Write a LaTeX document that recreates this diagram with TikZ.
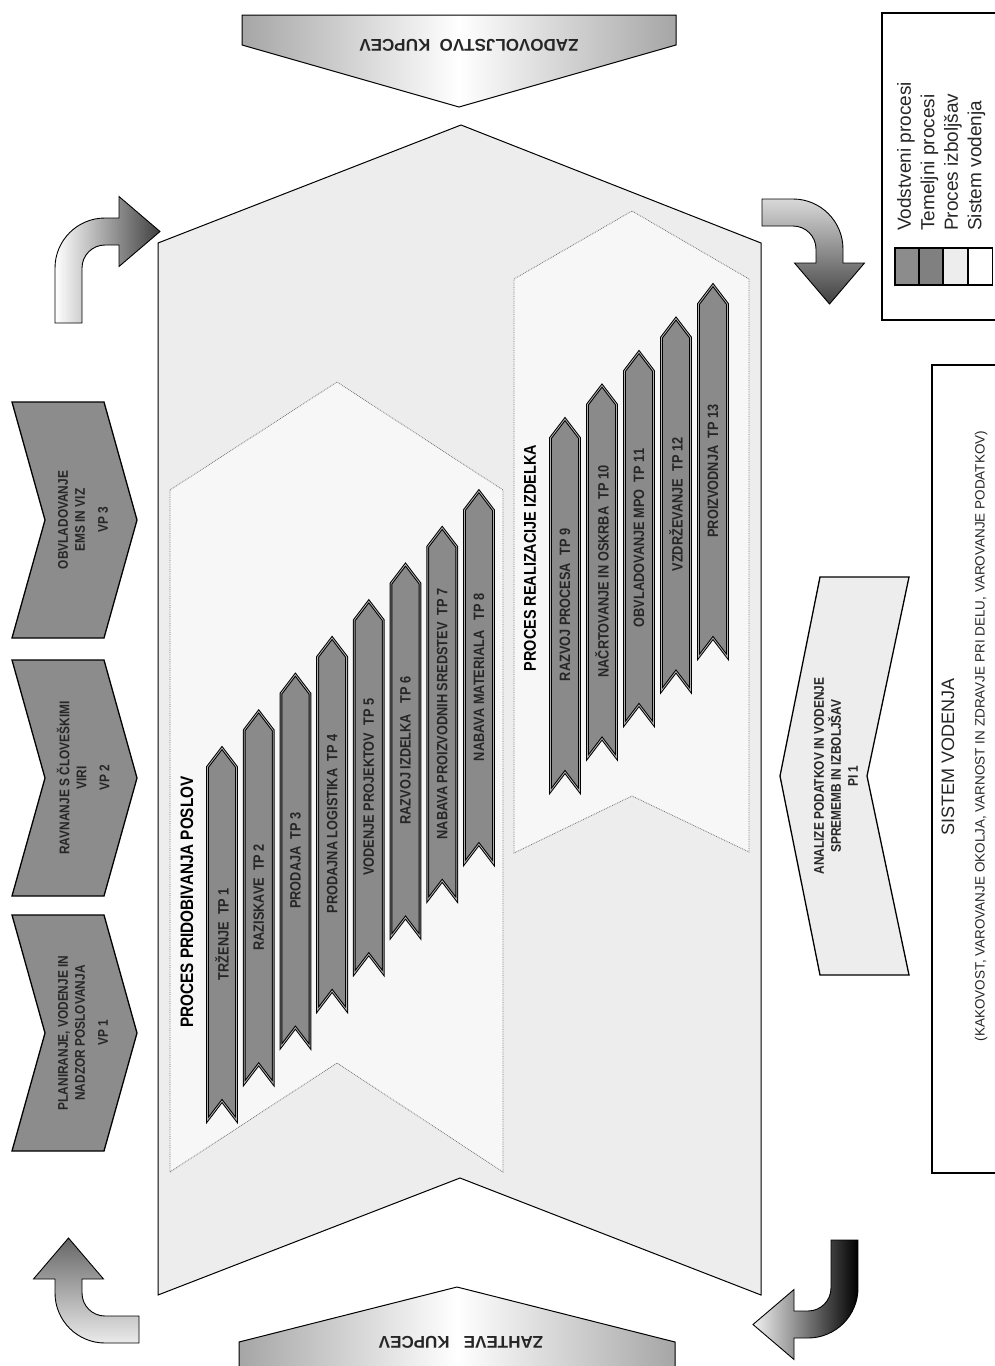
\documentclass[tikz,border=0pt]{standalone}
\usepackage{fontspec, calculator}
\setmainfont{Liberation Sans}
\newfontfamily\narrowfont[FakeStretch=0.85]{Liberation Sans}
\usetikzlibrary{shapes.geometric, arrows}
\tikzstyle{tp} = [draw=black, line width=1pt, double=black!30, double distance=0.8pt, fill=black!46]
\tikzstyle{tptext} = [rotate=90, inner sep=0, text=black!85, font=\narrowfont\bfseries\fontsize{15}{17}\selectfont]
\tikzstyle{vp} = [draw=black, line width=1.3pt, fill=black!45]
\tikzstyle{vptext} = [rotate=90, align=center, inner sep=0, text=black!85, font=\narrowfont\bfseries\fontsize{14}{17}\selectfont]
\tikzstyle{group} = [draw=black!55, densely dotted, line width=0.8pt, fill=black!3]
\tikzstyle{grouptitle} = [rotate=90, inner sep=0, font=\narrowfont\bfseries\fontsize{18}{20}\selectfont]
\tikzstyle{kupec} = [draw=black, line width=1pt, left color=black!35, right color=black!35, middle color=white]
\tikzstyle{kupectext} = [rotate=180, inner sep=0, text=black!85, font=\bfseries\fontsize{17}{20}\selectfont]
\tikzstyle{turn} = [draw=black, line width=0.9pt]
\newcommand{\turnarrow}[2]{\draw[turn,#1] (-50,#2) -- (-23,#2) -- (-23,0) .. controls (-23,-12.7) and (-12.7,-23) .. (0,-23) -- (14,-23) -- (14,-1.5) -- (55,-36.5) -- (14,-71.5) -- (14,-50) -- (0,-50) .. controls (-27.6,-50) and (-50,-27.6) .. (-50,0) -- cycle;}

\begin{document}
\begin{tikzpicture}[x=1pt, y=-1pt]
\fill[white] (0,0) rectangle (995,1366);
\useasboundingbox (0,0) rectangle (995,1366);

% kupci
\path[kupec] (242,15) -- (676,15) -- (676,45) -- (459,107) -- (242,45) -- cycle;
\node[kupectext] (zadovoljstvo) at (469,45) {ZADOVOLJSTVO\ \ KUPCEV};
\path[kupec] (239,1380) -- (239,1342) -- (457,1287) -- (675,1342) -- (675,1380) -- cycle;
\node[kupectext] (zahteve) at (461,1342) {ZAHTEVE\ \ \ KUPCEV};

% glavni proces
\draw[line width=1pt, fill=black!7] (158,243) -- (461,125) -- (761,243) -- (761,1295) -- (460,1178) -- (158,1295) -- cycle;
\draw[group] (170,490) -- (337,382) -- (503,490) -- (503,1172) -- (337,1063) -- (170,1172) -- cycle;
\draw[group] (514,279) -- (632,211) -- (749,279) -- (749,852) -- (632,796) -- (514,853) -- cycle;
\node[grouptitle] (pridobivanje) at (187,902) {PROCES PRIDOBIVANJA POSLOV};
\node[grouptitle, font=\narrowfont\bfseries\fontsize{17}{20}\selectfont] (realizacija) at (530,558) {PROCES REALIZACIJE IZDELKA};

% temeljni procesi
\foreach \t [count=\i] in {TRŽENJE\ \ TP 1, RAZISKAVE\ \ TP 2, PRODAJA\ \ TP 3, PRODAJNA LOGISTIKA\ \ TP 4, VODENJE PROJEKTOV\ \ TP 5, RAZVOJ IZDELKA\ \ \ TP 6, NABAVA PROIZVODNIH SREDSTEV\ \ TP 7, NABAVA MATERIALA\ \ \ TP 8}{
	\MULTIPLY{\i}{36.7}{\off}
	\begin{scope}[shift={(185.3+\off,970.7-\off)}]
	\draw[tp] (0,-186) -- (14.5,-167) -- (14.5,186) -- (0,167) -- (-14.5,186) -- (-14.5,-167) -- cycle;
	\node[tptext] (tp\i) at (0,0) {\t};
	\end{scope}
}
\foreach \t [count=\i from 9] in {RAZVOJ PROCESA\ \ TP 9, NAČRTOVANJE IN OSKRBA\ \ TP 10, OBVLADOVANJE MPO\ \ TP 11, VZDRŽEVANJE\ \ TP 12, PROIZVODNJA\ \ TP 13}{
	\SUBTRACT{\i}{9}{\k}
	\MULTIPLY{\k}{37}{\offx}
	\MULTIPLY{\k}{33.5}{\offy}
	\begin{scope}[shift={(565+\offx,605-\offy)}]
	\draw[tp] (0,-186) -- (14.5,-167) -- (14.5,186) -- (0,167) -- (-14.5,186) -- (-14.5,-167) -- cycle;
	\node[tptext] (tp\i) at (0,0) {\t};
	\end{scope}
}

% vodstveni procesi
\foreach \vpy in {520,778,1033}
	\draw[vp] (12,\vpy-118) -- (104,\vpy-118) -- (137,\vpy) -- (104,\vpy+118) -- (12,\vpy+118) -- (45,\vpy) -- cycle;
\node[vptext] (vp1) at (83,1033) {PLANIRANJE, VODENJE IN\\NADZOR POSLOVANJA\\[6pt]VP 1};
\node[vptext] (vp2) at (83,778) {RAVNANJE S ČLOVEŠKIMI\\VIRI\\[6pt]VP 2};
\node[vptext] (vp3) at (83,520) {OBVLADOVANJE\\EMS IN VIZ\\[6pt]VP 3};

% proces izboljsav
\draw[line width=1.3pt, fill=black!7] (820,577) -- (909,577) -- (867,776) -- (909,975) -- (820,975) -- (780,776) -- cycle;
\node[vptext] (pi1) at (836,776) {ANALIZE PODATKOV IN VODENJE\\SPREMEMB IN IZBOLJŠAV\\PI 1};

% zanka
\begin{scope}[shift={(105,268)}]
\turnarrow{left color=white, right color=black!75}{55}
\end{scope}
\begin{scope}[shift={(793,249)}, rotate=-90]
\turnarrow{top color=black!15, bottom color=black!75}{31}
\end{scope}
\begin{scope}[shift={(105,1293)}, rotate=90]
\turnarrow{top color=black!60, bottom color=black!8}{34}
\end{scope}
\begin{scope}[shift={(808,1288)}, rotate=180]
\turnarrow{left color=black!5, right color=black}{48}
\end{scope}

% sistem vodenja
\draw[line width=1.8pt] (1000,365) -- (932,365) -- (932,1173) -- (1000,1173);
\node[rotate=90, text=black!85, font=\fontsize{18}{20}\selectfont] (sistem) at (948,757) {SISTEM VODENJA};
\node[rotate=90, text=black!85, font=\fontsize{13.5}{15}\selectfont] (podrocja) at (981,736) {(KAKOVOST, VAROVANJE OKOLJA, VARNOST IN ZDRAVJE PRI DELU, VAROVANJE PODATKOV)};

% legenda
\draw[line width=1.8pt] (1000,13) -- (882,13) -- (882,320) -- (1000,320);
\foreach \c/\x in {black!45/895, black!50/919, black!7/943, white/968}
	\draw[line width=1.1pt, fill=\c] (\x,248) rectangle +(24.5,37);
\node[rotate=90, anchor=north west, align=left, inner sep=0, text=black!85, font=\fontsize{19}{23.5}\selectfont] (legenda) at (897,231) {Vodstveni procesi\\Temeljni procesi\\Proces izboljšav\\Sistem vodenja};
\end{tikzpicture}
\end{document}
